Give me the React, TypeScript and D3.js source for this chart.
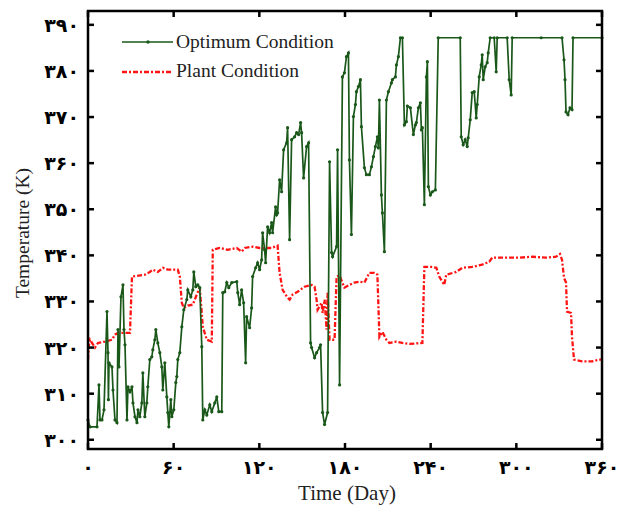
import React from 'react';
import * as d3 from 'd3';

// [day, temperature K]
const optimumCondition: [number, number][] = [
  [0, 304.3], [1.4, 302.8], [6.3, 302.8], [7.7, 311.9], [8.4, 304.3], [9.8, 304.3], [11.2, 306.5],
  [13.3, 327.8], [14.0, 318.9], [14.3, 308.7], [14.7, 316.7], [16.8, 315.8], [17.5, 310.8], [18.9, 304.3],
  [20.3, 303.7], [21.0, 323.9], [21.7, 315.8], [23.1, 331.0], [24.5, 333.6], [25.2, 323.9], [25.9, 320.6],
  [27.3, 304.3], [28.0, 311.5], [29.4, 310.4], [30.8, 311.5], [31.5, 308.0], [32.9, 305.0], [34.3, 303.7],
  [35.0, 306.5], [36.3, 305.0], [37.7, 308.0], [38.4, 314.5], [39.8, 305.0], [41.2, 308.0], [41.9, 311.5],
  [43.3, 317.4], [44.7, 318.0], [45.4, 319.5], [46.8, 321.7], [47.5, 323.9], [48.9, 321.0], [50.3, 318.9],
  [51.7, 315.8], [52.4, 310.8], [53.8, 316.7], [55.2, 309.3], [55.9, 305.9], [56.6, 302.8], [58.0, 308.7],
  [58.7, 305.0], [60.1, 306.5], [61.5, 312.4], [62.2, 313.7], [62.9, 317.4], [64.3, 318.9], [65.7, 324.5],
  [67.1, 328.2], [69.2, 330.4], [69.9, 332.5], [72.0, 331.0], [73.4, 332.5], [74.1, 336.4], [75.5, 333.2],
  [76.9, 333.6], [78.3, 333.0], [79.7, 320.2], [80.4, 304.3], [81.8, 306.5], [83.2, 305.4], [85.3, 307.6],
  [86.7, 306.1], [88.8, 308.0], [90.2, 309.3], [91.6, 306.1], [93.7, 306.1], [94.4, 331.9], [95.8, 332.1],
  [97.2, 334.1], [98.6, 333.0], [100.7, 334.1], [104.2, 334.3], [104.9, 331.9], [106.2, 329.3], [107.6, 332.5],
  [109.0, 329.7], [110.4, 316.7], [111.1, 326.7], [113.2, 324.3], [114.6, 328.6], [115.3, 335.4], [117.4, 337.3],
  [118.8, 338.4], [120.2, 336.9], [121.6, 339.0], [122.3, 344.9], [123.7, 341.2], [124.4, 338.4], [125.8, 346.2],
  [127.2, 344.9], [128.6, 347.1], [129.3, 344.9], [131.4, 350.5], [132.1, 348.8], [132.8, 349.2], [134.2, 356.4],
  [135.6, 353.8], [137.0, 362.9], [139.1, 364.4], [139.8, 367.7], [141.2, 343.4], [142.6, 365.1], [144.7, 365.7],
  [146.1, 366.6], [147.5, 366.2], [148.9, 368.8], [149.6, 366.6], [151.0, 356.8], [153.1, 363.6], [154.5, 364.4],
  [155.9, 321.0], [156.6, 320.0], [158.7, 317.8], [160.1, 318.9], [162.2, 320.0], [162.9, 320.6], [164.3, 305.9],
  [165.7, 303.3], [167.8, 305.9], [169.2, 360.3], [170.6, 340.6], [171.3, 339.7], [174.1, 341.9], [174.8, 362.9],
  [176.2, 311.9], [178.2, 378.7], [179.6, 379.6], [181.0, 383.1], [182.4, 383.9], [183.1, 360.7], [184.5, 344.5],
  [185.9, 370.1], [187.3, 372.7], [188.0, 375.5], [189.4, 376.6], [190.8, 378.1], [191.5, 367.9], [193.6, 359.0],
  [195.0, 357.5], [197.1, 357.5], [198.5, 359.2], [199.9, 361.4], [201.3, 363.6], [202.7, 365.7], [203.4, 363.3],
  [204.1, 373.7], [205.5, 353.1], [206.2, 349.2], [207.6, 340.8], [209.0, 373.7], [210.4, 375.5], [212.5, 377.4],
  [213.2, 378.1], [215.3, 378.7], [216.0, 381.3], [217.4, 383.1], [218.8, 387.2], [220.2, 387.2], [221.6, 368.3],
  [223.0, 369.0], [223.7, 372.4], [225.8, 372.0], [227.9, 366.2], [229.3, 368.3], [230.0, 368.8], [231.4, 372.0],
  [232.8, 373.1], [233.5, 367.2], [234.2, 367.7], [235.6, 351.0], [237.0, 378.7], [237.7, 382.0], [238.4, 354.9],
  [239.8, 353.1], [241.2, 353.8], [243.3, 354.2], [245.3, 387.2], [260.7, 387.2], [261.4, 365.7], [262.8, 364.0],
  [264.2, 365.1], [265.6, 363.6], [266.3, 365.5], [267.7, 369.4], [269.1, 375.3], [270.5, 375.5], [271.9, 369.8],
  [272.6, 372.7], [274.0, 378.7], [275.4, 381.3], [276.1, 383.5], [276.8, 378.1], [278.2, 380.9], [279.6, 381.8],
  [280.3, 383.9], [281.7, 387.2], [284.5, 387.2], [285.9, 379.8], [286.6, 387.2], [293.6, 387.2], [295.0, 378.1],
  [296.4, 374.8], [297.1, 387.2], [317.4, 387.2], [332.0, 387.2], [333.4, 382.4], [334.1, 378.1], [334.8, 371.1],
  [336.2, 370.5], [337.6, 372.0], [339.0, 371.6], [339.7, 387.2], [360, 387.2],
];

const plantCondition: [number, number][] = [
  [0, 317.4], [0.7, 320.6], [1.4, 321.7], [2.8, 321.0], [4.9, 320.0], [7.0, 321.0], [11.9, 321.3], [16.8, 321.7],
  [18.9, 322.8], [21.0, 323.2], [29.4, 323.2], [30.8, 335.4], [39.8, 335.8], [43.3, 336.4], [45.4, 336.9],
  [48.9, 336.4], [52.4, 337.3], [55.9, 336.9], [62.9, 336.9], [64.3, 335.4], [65.7, 329.7], [67.1, 328.6],
  [69.9, 329.1], [73.4, 329.3], [76.2, 331.5], [78.3, 333.0], [80.4, 324.5], [83.2, 321.7], [86.7, 321.3],
  [87.4, 341.2], [92.3, 341.6], [97.9, 341.2], [104.2, 341.6], [107.6, 340.8], [109.7, 341.6], [115.3, 341.9],
  [120.2, 341.6], [128.6, 341.6], [132.8, 342.1], [134.2, 336.2], [136.3, 332.5], [139.8, 330.8], [141.2, 330.4],
  [143.3, 331.5], [146.8, 332.1], [151.7, 333.2], [156.6, 333.6], [158.7, 333.2], [160.1, 330.4], [160.8, 328.2],
  [163.6, 329.7], [164.3, 327.5], [165.7, 330.4], [167.1, 323.9], [167.8, 331.9], [169.2, 321.7], [172.7, 321.7],
  [174.1, 335.4], [176.2, 335.6], [179.6, 333.0], [183.1, 333.6], [186.6, 334.1], [190.1, 334.3], [193.6, 334.1],
  [197.1, 336.2], [200.6, 336.2], [202.7, 335.8], [204.1, 322.3], [206.2, 323.4], [209.0, 321.7], [211.1, 321.0],
  [216.0, 321.3], [220.2, 321.0], [225.1, 320.8], [234.2, 321.0], [235.6, 337.5], [240.5, 337.5], [244.0, 337.3],
  [246.0, 335.4], [249.5, 333.6], [250.9, 335.8], [257.9, 336.4], [262.1, 337.3], [269.1, 337.5], [276.1, 338.0],
  [281.0, 338.6], [283.1, 339.5], [292.9, 339.5], [302.0, 339.5], [311.1, 339.7], [320.8, 339.5], [327.8, 339.7],
  [330.6, 340.3], [332.0, 339.0], [333.4, 335.1], [334.8, 334.1], [335.5, 327.8], [338.3, 327.5], [339.0, 322.3],
  [340.4, 317.4], [346.0, 317.0], [353.0, 317.0], [357.9, 317.4], [360, 317.4],
];

const xTicks = [0, 60, 120, 180, 240, 300, 360];
const xTickLabels = ['۰', '۶۰', '۱۲۰', '۱۸۰', '۲۴۰', '۳۰۰', '۳۶۰'];
const yTicks = [300, 310, 320, 330, 340, 350, 360, 370, 380, 390];
const yTickLabels = ['۳۰۰', '۳۱۰', '۳۲۰', '۳۳۰', '۳۴۰', '۳۵۰', '۳۶۰', '۳۷۰', '۳۸۰', '۳۹۰'];

const GREEN = '#1a581a';
const RED = '#ff1414';
const DASH = '5,2,2,2';
const serif = '"Liberation Serif", "Times New Roman", serif';
const digitFont = '"DejaVu Sans", sans-serif';

const App = () => {
  const left = 88, right = 602, top = 11, bottom = 449;
  const x = d3.scaleLinear().domain([0, 360]).range([left, right]);
  const y = d3.scaleLinear().domain([298, 393]).range([bottom, top]);
  const line = d3.line<[number, number]>().x(d => x(d[0])).y(d => y(d[1]));
  const tickLen = 6;

  return (
    <svg width={620} height={505} style={{ position: 'absolute', left: 0, top: 0, background: 'white' }}>
      {/* series */}
      <path d={line(plantCondition) || ''} fill="none" stroke={RED} strokeWidth={2.3} strokeDasharray={DASH} />
      <path d={line(optimumCondition) || ''} fill="none" stroke={GREEN} strokeWidth={1.7} />
      {optimumCondition.map((d, i) => (
        <circle key={i} cx={x(d[0])} cy={y(d[1])} r={1.6} fill={GREEN} />
      ))}

      {/* frame + ticks */}
      <rect x={left} y={top} width={right - left} height={bottom - top} fill="none" stroke="#000" strokeWidth={2.5} />
      {xTicks.map((t, i) => (
        <g key={'x' + t}>
          <line x1={x(t)} x2={x(t)} y1={bottom} y2={bottom - tickLen} stroke="#000" strokeWidth={2.5} />
          <line x1={x(t)} x2={x(t)} y1={top} y2={top + tickLen} stroke="#000" strokeWidth={2.5} />
          <text x={x(t)} y={474} textAnchor="middle" fontFamily={digitFont} fontWeight="bold" fontSize={19}>
            {xTickLabels[i]}
          </text>
        </g>
      ))}
      {yTicks.map((t, i) => (
        <g key={'y' + t}>
          <line x1={left} x2={left + tickLen} y1={y(t)} y2={y(t)} stroke="#000" strokeWidth={2.5} />
          <line x1={right} x2={right - tickLen} y1={y(t)} y2={y(t)} stroke="#000" strokeWidth={2.5} />
          <text x={79} y={y(t) + 7} textAnchor="end" fontFamily={digitFont} fontWeight="bold" fontSize={19}>
            {yTickLabels[i]}
          </text>
        </g>
      ))}

      {/* axis titles */}
      <text transform="translate(29,233) rotate(-90)" textAnchor="middle" fontFamily={serif} fontSize={19.5} fill="#222">
        Temperature (K)
      </text>
      <text x={347} y={500} textAnchor="middle" fontFamily={serif} fontSize={21} fill="#222">
        Time (Day)
      </text>

      {/* legend */}
      <line x1={122} x2={173} y1={42} y2={42} stroke={GREEN} strokeWidth={1.6} />
      <circle cx={148} cy={42} r={1.7} fill={GREEN} />
      <text x={176} y={48} fontFamily={serif} fontSize={19.5} fill="#222">Optimum Condition</text>
      <line x1={122} x2={173} y1={72} y2={72} stroke={RED} strokeWidth={2.3} strokeDasharray={DASH} />
      <text x={176} y={77} fontFamily={serif} fontSize={19.5} fill="#222">Plant Condition</text>
    </svg>
  );
};

export default App;
